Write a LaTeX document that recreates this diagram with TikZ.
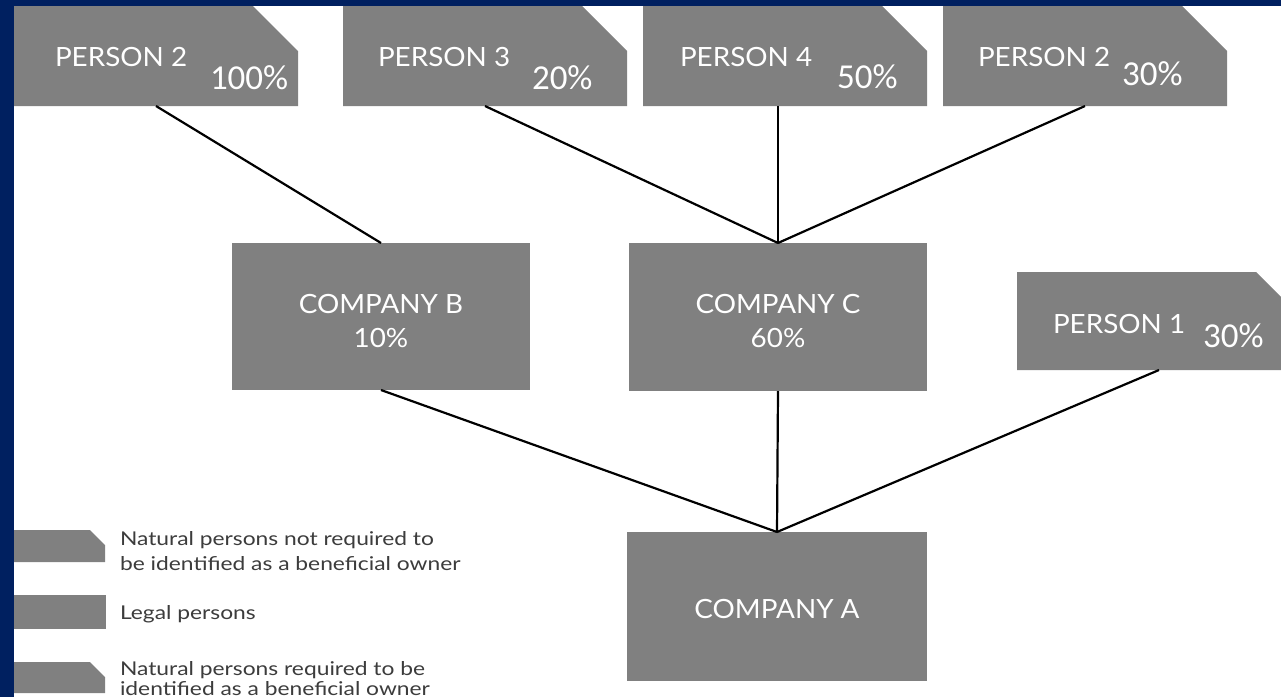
\documentclass[tikz,border=0pt]{standalone}
\usepackage{fontspec}
\setmainfont{Lato}
\newfontfamily\lblfont[FakeStretch=1.05]{Lato}
\newfontfamily\legfont[FakeStretch=1.2]{Lato}
\newfontfamily\pctfont{Carlito}
\definecolor{navy}{RGB}{0,32,96}
\definecolor{boxgray}{RGB}{128,128,128}
\definecolor{legtext}{RGB}{60,60,60}
\tikzset{
  box/.style={rectangle, inner sep=0pt, outer sep=0pt},
  lbl/.style={inner sep=0pt, outer sep=0pt, text=white, font=\lblfont\fontsize{26.5}{30}\selectfont},
  pct/.style={inner sep=0pt, outer sep=0pt, text=white, font=\pctfont\fontsize{35}{40}\selectfont},
  leg/.style={inner sep=0pt, outer sep=0pt, text=legtext, font=\legfont\fontsize{19}{22}\selectfont, anchor=base west},
  link/.style={draw=black, line width=2.2pt},
}
\newcommand\chamferfill[2]{%
  \fill[boxgray] (#1.south west) -- (#1.north west) -- ([xshift=-#2]#1.north east)
    -- ([yshift=-#2]#1.north east) -- (#1.south east) -- cycle;}
\begin{document}
\begin{tikzpicture}[x=1pt,y=-1pt]
\useasboundingbox (0,0) rectangle (1281,697);
\fill[white] (0,0) rectangle (1281,697);

% person boxes (chamfered)
\node[box, minimum width=284pt, minimum height=100pt] (p2l) at (156,56) {};
\node[box, minimum width=284pt, minimum height=100pt] (p3) at (485,56) {};
\node[box, minimum width=284pt, minimum height=100pt] (p4) at (785,56) {};
\node[box, minimum width=284pt, minimum height=100pt] (p2r) at (1085,56) {};
\node[box, minimum width=284pt, minimum height=98pt] (p1) at (1159,321) {};
\chamferfill{p2l}{45pt}
\chamferfill{p3}{45pt}
\chamferfill{p4}{45pt}
\chamferfill{p2r}{45pt}
\chamferfill{p1}{45pt}

% company boxes
\node[box, fill=boxgray, minimum width=298pt, minimum height=147pt] (cB) at (381,316.5) {};
\node[box, fill=boxgray, minimum width=298pt, minimum height=148pt] (cC) at (778,317) {};
\node[box, fill=boxgray, minimum width=300pt, minimum height=149pt] (cA) at (777,606.5) {};

% connectors
\draw[link] (p2l.south) -- (cB.north);
\draw[link] (p3.south) -- (cC.north);
\draw[link] (cC.north) -- (cC.north |- p4.south);
\draw[link] (p2r.south) -- (cC.north);
\draw[link] (cB.south) -- (cA.north);
\draw[link] (cC.south) -- (cA.north);
\draw[link] (p1.south) -- (cA.north);

% person labels
\node[lbl, anchor=base west] (t2l) at (55,66) {PERSON 2};
\node[pct, anchor=base west] (v2l) at (210,89) {100\%};
\node[lbl, anchor=base west] (t3) at (378,66) {PERSON 3};
\node[pct, anchor=base west] (v3) at (532,89) {20\%};
\node[lbl, anchor=base west] (t4) at (680,66) {PERSON 4};
\node[pct, anchor=base west] (v4) at (837,88) {50\%};
\node[lbl, anchor=base west] (t2r) at (978,66) {PERSON 2};
\node[pct, anchor=base west] (v2r) at (1122,85) {30\%};
\node[lbl, anchor=base west] (t1) at (1053,333) {PERSON 1};
\node[pct, anchor=base west] (v1) at (1203,347) {30\%};

% company labels
\node[lbl, anchor=base] (tB) at (381,313) {COMPANY B};
\node[lbl, anchor=base] (vB) at (381,347) {10\%};
\node[lbl, anchor=base] (tC) at (778,313) {COMPANY C};
\node[lbl, anchor=base] (vC) at (778,347) {60\%};
\node[lbl, anchor=base] (tA) at (777,618) {COMPANY A};

% legend
\fill[boxgray] (0,562) -- (0,530) -- (90,530) -- (105,545) -- (105,562) -- cycle;
\fill[boxgray] (0,595) rectangle (106,629);
\fill[boxgray] (0,693) -- (0,662) -- (90,662) -- (105,677) -- (105,693) -- cycle;
\node[leg] (l1a) at (120,545) {Natural persons not required to};
\node[leg] (l1b) at (120,570) {be identified as a beneficial owner};
\node[leg] (l2) at (120,619) {Legal persons};
\node[leg] (l3a) at (120,675) {Natural persons required to be};
\node[leg] (l3b) at (120,695) {identified as a beneficial owner};

% navy frame
\fill[navy] (0,0) rectangle (14,697);
\fill[navy] (0,0) rectangle (1281,6);
\end{tikzpicture}
\end{document}
